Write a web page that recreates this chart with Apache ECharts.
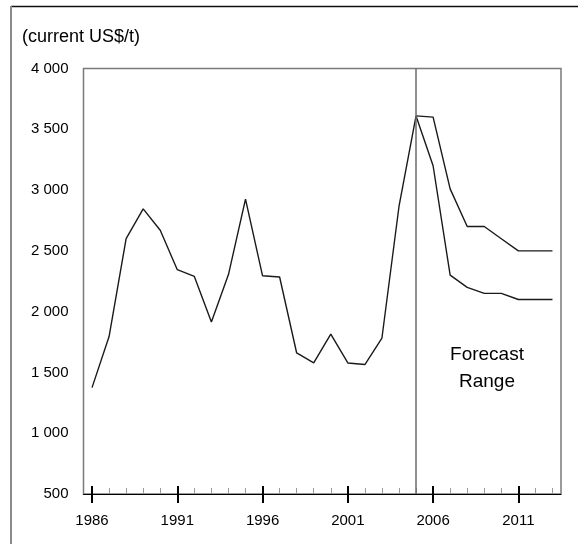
<!DOCTYPE html>
<html>
<head>
<meta charset="utf-8">
<script src="https://cdn.jsdelivr.net/npm/echarts@6/dist/echarts.min.js"></script>
<style>
html,body{margin:0;padding:0;background:#fff;}
#chart{width:578px;height:544px;}
</style>
</head>
<body>
<div id="chart"></div>
<script>
// ---- data ----
var years = ['1986','1987','1988','1989','1990','1991','1992','1993','1994','1995','1996','1997','1998','1999','2000','2001','2002','2003','2004','2005','2006','2007','2008','2009','2010','2011','2012','2013'];
// historical prices 1986-2005
var priceHistory = [1375,1795,2600,2845,2670,2345,2290,1915,2305,2925,2295,2285,1660,1578,1815,1578,1565,1783,2865,3610];
// forecast range 2005-2013
var forecastHigh = [3610,3600,3010,2700,2700,2600,2500,2500,2500];
var forecastLow  = [3610,3200,2300,2200,2150,2150,2100,2100,2100];
var yTicks = [500,1000,1500,2000,2500,3000,3500,4000];
var forecastStart = '2005';

function pad(arr, before, total){
  var out = [];
  for (var i=0;i<before;i++) out.push(null);
  for (var j=0;j<arr.length;j++) out.push(arr[j]);
  while (out.length<total) out.push(null);
  return out;
}
var startIdx = years.indexOf(forecastStart);
var histData = pad(priceHistory, 0, years.length);
var highData = pad(forecastHigh, startIdx, years.length);
var lowData  = pad(forecastLow, startIdx, years.length);

function fmt(v){
  if (v>=1000){ var r=String(v%1000); while(r.length<3) r='0'+r; return Math.floor(v/1000)+' '+r; }
  return String(v);
}
var FONT = 'Liberation Sans, Arial, sans-serif';
var major = function(i){ return i%5===0; };

var chart = echarts.init(document.getElementById('chart'), null, {renderer:'canvas'});
var lineStyle = {color:'#1a1a1a', width:1.4};
chart.setOption({
  animation:false,
  backgroundColor:'#fff',
  grid:{left:83.5, top:68.5, width:477.5, height:425.5, show:true, borderColor:'#7a7a7a', borderWidth:1.5, backgroundColor:'transparent'},
  xAxis:[
    {type:'category', data:years, boundaryGap:true, position:'bottom',
     axisLine:{show:true, lineStyle:{color:'#000', width:1}},
     axisTick:{show:true, alignWithLabel:true, interval:major, length:9, inside:false, lineStyle:{color:'#000', width:2}},
     axisLabel:{show:true, interval:major, margin:19, color:'#000', fontSize:15, fontFamily:FONT},
     splitLine:{show:false}},
    {type:'category', data:years, boundaryGap:true, position:'bottom',
     axisLine:{show:false},
     axisTick:{show:true, alignWithLabel:true, interval:0, length:6, inside:true, lineStyle:{color:'#9a9a9a', width:1}},
     axisLabel:{show:false}, splitLine:{show:false}},
    {type:'category', data:years, boundaryGap:true, position:'bottom',
     axisLine:{show:false},
     axisTick:{show:true, alignWithLabel:true, interval:major, length:8, inside:true, lineStyle:{color:'#000', width:2}},
     axisLabel:{show:false}, splitLine:{show:false}}
  ],
  yAxis:{type:'value', min:yTicks[0], max:yTicks[yTicks.length-1], interval:yTicks[1]-yTicks[0],
     axisLine:{show:false}, axisTick:{show:false}, splitLine:{show:false},
     axisLabel:{margin:15, color:'#000', fontSize:15, fontFamily:FONT, formatter:fmt}},
  series:[
    {type:'line', name:'history', data:histData, xAxisIndex:0, symbol:'none', lineStyle:lineStyle, z:3,
     markLine:{silent:true, symbol:['none','none'], label:{show:false},
       lineStyle:{color:'#6a6a6a', width:1.5, type:'solid'}, data:[{xAxis:forecastStart}]}},
    {type:'line', name:'high', data:highData, xAxisIndex:0, symbol:'none', lineStyle:lineStyle, z:3},
    {type:'line', name:'low', data:lowData, xAxisIndex:0, symbol:'none', lineStyle:lineStyle, z:3}
  ],
  graphic:[
    {type:'line', shape:{x1:11, y1:6.5, x2:578, y2:6.5}, style:{stroke:'#111', lineWidth:1.5}, silent:true},
    {type:'line', shape:{x1:11, y1:6, x2:11, y2:544}, style:{stroke:'#8a8a8a', lineWidth:2}, silent:true},
    {type:'text', left:22, top:28, style:{text:'(current US$/t)', fill:'#000', font:'18px '+FONT}},
    {type:'text', x:487, y:355, style:{text:'Forecast', fill:'#000', font:'19px '+FONT, textAlign:'center', textVerticalAlign:'middle'}},
    {type:'text', x:487, y:382, style:{text:'Range', fill:'#000', font:'19px '+FONT, textAlign:'center', textVerticalAlign:'middle'}}
  ]
});
</script>
</body>
</html>
